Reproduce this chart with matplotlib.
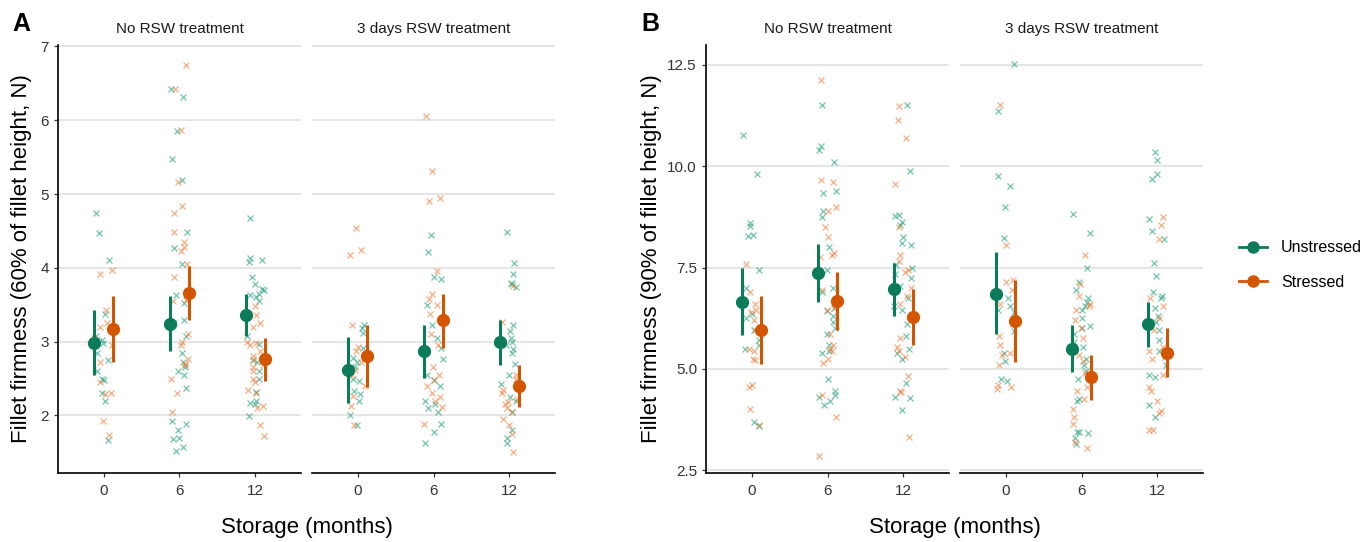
import numpy as np
import matplotlib.pyplot as plt
from matplotlib.lines import Line2D
from matplotlib.ticker import FormatStrFormatter

plt.rcParams['font.family'] = ['Liberation Sans', 'DejaVu Sans']

# --- DATA ---
months = ['0', '6', '12']
treatments = ['No RSW treatment', '3 days RSW treatment']
groups = ['Unstressed', 'Stressed']

# raw values, per storage month (0, 6, 12)
a_none_unstr = [
    [4.74, 4.47, 4.11, 3.37, 3.08, 3.02, 2.98, 2.85, 2.75, 2.60, 2.50, 2.48, 2.30, 2.20, 1.67],
    [6.43, 6.31, 5.85, 5.47, 5.19, 4.49, 4.27, 4.05, 3.63, 3.53, 3.30, 3.25, 3.08, 2.85, 2.72,
     2.65, 2.60, 2.55, 2.37, 1.92, 1.88, 1.80, 1.70, 1.68, 1.57, 1.52],
    [4.68, 4.13, 4.10, 4.08, 3.87, 3.78, 3.72, 3.70, 3.65, 3.63, 3.60, 3.55, 3.07, 2.97, 2.75,
     2.73, 2.60, 2.50, 2.32, 2.20, 2.17, 2.15, 1.99],
]
a_none_str = [
    [3.97, 3.91, 3.43, 3.25, 3.20, 3.05, 2.95, 2.72, 2.45, 2.30, 2.29, 1.93, 1.74],
    [6.75, 6.43, 5.87, 5.17, 4.84, 4.74, 4.49, 4.35, 4.28, 4.23, 4.05, 3.88, 3.57, 3.55, 3.10,
     3.00, 2.95, 2.77, 2.70, 2.68, 2.50, 2.30, 2.05],
    [3.48, 3.36, 3.25, 3.20, 3.00, 2.98, 2.95, 2.88, 2.80, 2.75, 2.68, 2.65, 2.60, 2.50, 2.45,
     2.35, 2.30, 2.13, 2.10, 1.87, 1.72],
]
a_rsw_unstr = [
    [3.22, 3.18, 3.12, 2.92, 2.78, 2.73, 2.65, 2.50, 2.47, 2.33, 2.29, 2.20, 2.00, 1.87],
    [4.44, 4.22, 3.87, 3.85, 3.50, 3.23, 3.05, 2.92, 2.77, 2.55, 2.48, 2.40, 2.20, 2.15, 2.10,
     2.05, 1.88, 1.78, 1.62],
    [4.49, 4.07, 3.92, 3.80, 3.78, 3.74, 3.22, 3.15, 3.05, 3.00, 2.95, 2.90, 2.85, 2.70, 2.55,
     2.42, 2.25, 2.20, 2.05, 1.80, 1.70, 1.62],
]
a_rsw_str = [
    [4.54, 4.24, 4.17, 3.23, 2.93, 2.88, 2.73, 2.62, 2.55, 2.40, 2.27, 2.13, 1.87],
    [6.06, 5.31, 4.95, 4.90, 3.96, 3.65, 3.58, 3.50, 3.38, 3.10, 2.95, 2.65, 2.55, 2.48, 2.40,
     2.30, 2.25, 2.20, 2.12, 1.88],
    [3.75, 3.26, 2.55, 2.50, 2.42, 2.35, 2.30, 2.22, 2.18, 2.15, 2.10, 2.05, 1.95, 1.87, 1.75, 1.50],
]
b_none_unstr = [
    [10.76, 9.80, 8.60, 8.52, 8.30, 8.28, 7.45, 7.00, 6.35, 6.25, 5.95, 5.70, 5.60, 5.50, 3.70, 3.60],
    [11.50, 10.50, 10.40, 10.10, 9.40, 9.35, 8.90, 8.75, 8.00, 7.45, 7.00, 6.90, 6.50, 6.42, 6.30,
     6.15, 6.00, 5.85, 5.60, 5.45, 5.40, 4.75, 4.45, 4.35, 4.30, 4.20, 4.10],
    [11.50, 9.88, 8.80, 8.78, 8.62, 8.55, 8.25, 8.10, 8.05, 7.55, 7.50, 7.35, 7.25, 7.05, 6.75,
     6.55, 6.45, 6.10, 5.80, 5.50, 5.40, 5.25, 4.65, 4.30, 4.28, 3.99],
]
b_none_str = [
    [7.58, 6.90, 6.60, 6.45, 6.40, 6.20, 5.95, 5.50, 5.45, 5.25, 5.22, 4.60, 4.55, 4.00, 3.62],
    [12.12, 9.65, 9.60, 9.00, 8.90, 8.50, 8.25, 7.85, 7.80, 7.75, 6.95, 6.50, 6.45, 5.85, 5.60,
     5.50, 5.45, 5.25, 5.15, 4.35, 3.80, 2.85],
    [11.48, 11.15, 10.70, 9.57, 8.50, 7.80, 7.65, 7.45, 7.40, 7.00, 6.80, 6.60, 5.75, 5.55, 5.45,
     5.30, 4.82, 4.45, 4.43, 3.32],
]
b_rsw_unstr = [
    [12.52, 11.35, 9.77, 9.52, 9.00, 8.22, 6.75, 6.55, 6.45, 6.40, 5.93, 5.40, 5.20, 4.75, 4.70],
    [8.82, 8.35, 7.50, 7.15, 6.95, 6.75, 6.65, 6.55, 6.45, 6.25, 6.05, 6.00, 5.85, 5.65, 5.55,
     5.25, 5.10, 4.95, 4.75, 4.25, 4.20, 3.45, 3.44, 3.42, 3.30, 3.15],
    [10.35, 10.15, 9.80, 9.68, 8.70, 8.40, 8.20, 7.60, 7.30, 6.90, 6.80, 6.75, 6.50, 6.30, 6.15,
     5.95, 5.70, 5.45, 5.30, 5.10, 4.85, 4.80, 4.10, 3.80],
]
b_rsw_str = [
    [11.52, 8.05, 7.20, 7.15, 6.95, 6.60, 6.10, 5.80, 5.60, 5.40, 5.35, 5.10, 4.60, 4.55, 4.50],
    [7.80, 7.10, 6.80, 6.60, 6.55, 6.45, 6.20, 6.00, 5.75, 5.35, 5.20, 4.90, 4.55, 4.45, 4.25,
     4.00, 3.80, 3.65, 3.20, 3.05],
    [8.75, 8.55, 8.20, 6.75, 6.55, 6.25, 5.95, 5.55, 5.45, 5.25, 4.85, 4.55, 4.45, 4.20, 3.95,
     3.90, 3.50, 3.48],
]

# means and intervals: No RSW (0, 6, 12), then 3 days RSW (0, 6, 12)
a_mean_unstr = [2.98, 3.24, 3.36, 2.62, 2.87, 3.00]
a_lo_unstr = [2.55, 2.87, 3.07, 2.17, 2.51, 2.69]
a_hi_unstr = [3.43, 3.62, 3.65, 3.06, 3.23, 3.30]
a_mean_str = [3.17, 3.66, 2.76, 2.80, 3.29, 2.40]
a_lo_str = [2.72, 3.29, 2.47, 2.38, 2.92, 2.12]
a_hi_str = [3.62, 4.03, 3.05, 3.22, 3.65, 2.69]

b_mean_unstr = [6.65, 7.37, 6.97, 6.85, 5.48, 6.10]
b_lo_unstr = [5.83, 6.65, 6.30, 5.85, 4.92, 5.53]
b_hi_unstr = [7.48, 8.08, 7.62, 7.88, 6.08, 6.65]
b_mean_str = [5.96, 6.67, 6.28, 6.17, 4.79, 5.40]
b_lo_str = [5.12, 5.95, 5.60, 5.17, 4.22, 4.80]
b_hi_str = [6.80, 7.40, 6.97, 7.18, 5.35, 6.00]

# --- STYLE ---
dark_cols = ['#0b7b59', '#d45500']
light_cols = ['#1b9e77', '#f07a35']
W, H = 1371, 542

fig = plt.figure(figsize=(W / 100, H / 100), dpi=100)
rng = np.random.default_rng(3)  # horizontal jitter only


def draw_panel(lefts_px, raw, means, lows, highs, ylim, yticks, fmt, ylabel, letter, letter_x, ylab_x):
    bottom = 1 - 473 / H
    height = (473 - 45) / H
    for f, left in enumerate(lefts_px):
        ax = fig.add_axes([left / W, bottom, 243 / W, height])
        # jittered raw points
        for i in range(len(months)):
            for g in range(2):
                vals = np.array(raw[g][f][i])
                xj = i + rng.uniform(-0.12, 0.12, len(vals))
                ax.plot(xj, vals, 'x', color=light_cols[g], ms=5, mew=0.9, alpha=0.6, zorder=2)
        # means with intervals, dodged
        for g, dx in enumerate([-0.125, 0.125]):
            xs = np.arange(3) + dx
            m = means[g][f * 3:(f + 1) * 3]
            lo = lows[g][f * 3:(f + 1) * 3]
            hi = highs[g][f * 3:(f + 1) * 3]
            ax.vlines(xs, lo, hi, color=dark_cols[g], lw=2.2, zorder=3)
            ax.plot(xs, m, 'o', color=dark_cols[g], ms=8.5, zorder=4)

        ax.set_xlim(-0.6, 2.6)
        ax.set_ylim(*ylim)
        ax.set_xticks(range(3))
        ax.set_xticklabels(months)
        ax.set_yticks(yticks)
        ax.yaxis.set_major_formatter(FormatStrFormatter(fmt))
        ax.yaxis.grid(True, color='#e3e3e3', lw=1.3)
        ax.set_axisbelow(True)
        for s in ['top', 'right']:
            ax.spines[s].set_visible(False)
        ax.spines['bottom'].set_linewidth(1.2)
        ax.spines['left'].set_linewidth(1.2)
        ax.tick_params(labelsize=11, length=3, width=0.9, color='#333333', labelcolor='#333333')
        ax.tick_params(axis='x', pad=5)
        if f == 1:
            ax.spines['left'].set_visible(False)
            ax.tick_params(axis='y', left=False, labelleft=False)
        ax.text(0.5, 1 + 16 / 428, treatments[f], transform=ax.transAxes,
                ha='center', va='center', fontsize=11, color='#1a1a1a')

    fig.text(ylab_x / W, 1 - 259 / H, ylabel, rotation=90, ha='center', va='center', fontsize=16)
    xmid = (lefts_px[0] + lefts_px[1] + 243) / 2
    fig.text(xmid / W, 1 - 528 / H, 'Storage (months)', ha='center', va='center', fontsize=16)
    fig.text(letter_x / W, 1 - 24 / H, letter, ha='center', va='center', fontsize=18, fontweight='bold')


draw_panel([58, 312], [[a_none_unstr, a_rsw_unstr], [a_none_str, a_rsw_str]],
           [a_mean_unstr, a_mean_str], [a_lo_unstr, a_lo_str], [a_hi_unstr, a_hi_str],
           (1.22, 7.02), [2, 3, 4, 5, 6, 7], '%d',
           'Fillet firmness (60% of fillet height, N)', 'A', 21, 22)

draw_panel([706, 960], [[b_none_unstr, b_rsw_unstr], [b_none_str, b_rsw_str]],
           [b_mean_unstr, b_mean_str], [b_lo_unstr, b_lo_str], [b_hi_unstr, b_hi_str],
           (2.43, 12.99), [2.5, 5.0, 7.5, 10.0, 12.5], '%.1f',
           'Fillet firmness (90% of fillet height, N)', 'B', 650, 652)

handles = [Line2D([], [], color=c, marker='o', ms=8, lw=2) for c in dark_cols]
fig.legend(handles, groups, loc='center left', bbox_to_anchor=(1225 / W, 1 - 265 / H),
           frameon=False, fontsize=11.5, handlelength=1.7, labelspacing=1.2, handletextpad=0.9)

fig.savefig('out.png', dpi=100)
